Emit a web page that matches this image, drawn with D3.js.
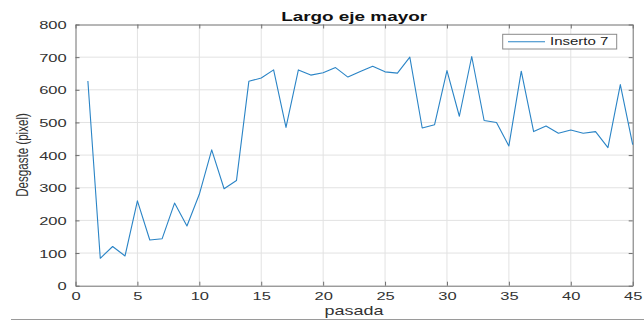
<!DOCTYPE html>
<html>
<head>
<meta charset="utf-8">
<script src="https://cdn.jsdelivr.net/npm/d3@7"></script>
<style>
  html, body { margin: 0; padding: 0; background: #fff; }
  svg { display: block; }
  text { font-family: "Liberation Sans", Arial, sans-serif; }
</style>
</head>
<body>
<svg id="chart" width="644" height="321"></svg>
<script>
// Wear of the major axis length per pass
const pasadas = d3.range(1, 46);
const desgaste = [
  627, 84, 120, 91, 260, 140, 144, 253, 183, 280,
  416, 297, 322, 626, 636, 661, 485, 661, 645, 652,
  668, 639, 656, 672, 655, 651, 700, 483, 493, 659,
  519, 702, 506, 500, 428, 657, 472, 489, 467, 477,
  467, 472, 423, 616, 432
];
const xTicks = [0, 5, 10, 15, 20, 25, 30, 35, 40, 45];
const yTicks = [0, 100, 200, 300, 400, 500, 600, 700, 800];
const titulo = "Largo eje mayor";
const etiquetaX = "pasada";
const etiquetaY = "Desgaste (pixel)";
const serie = "Inserto 7";

const SX = 1.5; // horizontal text stretch
const svg = d3.select("#chart");
const m = { left: 75.5, right: 632.7, top: 24.5, bottom: 285.7 };

const x = d3.scaleLinear().domain([0, 45]).range([m.left, m.right]);
const y = d3.scaleLinear().domain([0, 800]).range([m.bottom, m.top]);

// grid
const grid = svg.append("g").attr("stroke", "#e2e2e2").attr("stroke-width", 1);
grid.selectAll(".gx").data(xTicks.slice(1, -1)).join("line")
  .attr("x1", d => x(d)).attr("x2", d => x(d))
  .attr("y1", m.top).attr("y2", m.bottom);
grid.selectAll(".gy").data(yTicks.slice(1, -1)).join("line")
  .attr("x1", m.left).attr("x2", m.right)
  .attr("y1", d => y(d)).attr("y2", d => y(d));

// axes with inward ticks
const axisColor = "#6e6e6e";
function styleAxis(g) {
  g.select(".domain").attr("stroke", axisColor);
  g.selectAll(".tick line").attr("stroke", axisColor);
  g.selectAll(".tick text").attr("fill", "#333").attr("font-size", 11);
}
const gxB = svg.append("g").attr("transform", `translate(0,${m.bottom})`)
  .call(d3.axisBottom(x).tickValues(xTicks).tickSizeInner(-4).tickSizeOuter(0).tickFormat(d3.format("d")));
styleAxis(gxB);
gxB.selectAll(".tick text").attr("y", 0).attr("dy", null)
  .attr("transform", `translate(0,13.8) scale(${SX},1)`);

const gxT = svg.append("g").attr("transform", `translate(0,${m.top})`)
  .call(d3.axisTop(x).tickValues(xTicks).tickSizeInner(-4).tickSizeOuter(0).tickFormat(""));
styleAxis(gxT);

const gyL = svg.append("g").attr("transform", `translate(${m.left},0)`)
  .call(d3.axisLeft(y).tickValues(yTicks).tickSizeInner(-4).tickSizeOuter(0).tickFormat(d3.format("d")));
styleAxis(gyL);
gyL.selectAll(".tick text").attr("x", 0).attr("dy", "0.36em")
  .attr("transform", `translate(-8.8,0) scale(${SX},1)`);

const gyR = svg.append("g").attr("transform", `translate(${m.right},0)`)
  .call(d3.axisRight(y).tickValues(yTicks).tickSizeInner(-4).tickSizeOuter(0).tickFormat(""));
styleAxis(gyR);

// data line
const line = d3.line().x((d, i) => x(pasadas[i])).y(d => y(d));
svg.append("path").datum(desgaste)
  .attr("d", line).attr("fill", "none")
  .attr("stroke", "#2a84c6").attr("stroke-width", 1.1)
  .attr("stroke-linejoin", "round");

// title and labels
svg.append("text").attr("text-anchor", "middle").attr("font-weight", "bold")
  .attr("font-size", 12.6).attr("fill", "#111")
  .attr("transform", `translate(${(m.left + m.right) / 2},20.5) scale(${SX},1)`)
  .text(titulo);
svg.append("text").attr("text-anchor", "middle").attr("font-size", 12).attr("fill", "#333")
  .attr("transform", `translate(${(m.left + m.right) / 2},315) scale(${SX},1)`)
  .text(etiquetaX);
svg.append("text").attr("text-anchor", "middle").attr("font-size", 11.6).attr("fill", "#333")
  .attr("transform", `translate(27.5,155) scale(${SX},1) rotate(-90)`)
  .text(etiquetaY);

// legend
const lg = svg.append("g");
lg.append("rect").attr("x", 502.7).attr("y", 34.3).attr("width", 114).attr("height", 14.7)
  .attr("fill", "#fff").attr("stroke", "#8a8a8a").attr("stroke-width", 1);
lg.append("line").attr("x1", 508).attr("x2", 545).attr("y1", 41.7).attr("y2", 41.7)
  .attr("stroke", "#2a84c6").attr("stroke-width", 1.1);
lg.append("text").attr("font-size", 10).attr("fill", "#222")
  .attr("transform", `translate(550,45.3) scale(${SX},1)`)
  .text(serie);

// rule at the foot of the figure
svg.append("line").attr("x1", 11).attr("x2", 644).attr("y1", 319.5).attr("y2", 319.5)
  .attr("stroke", "#9a9a9a").attr("stroke-width", 1);
</script>
</body>
</html>
